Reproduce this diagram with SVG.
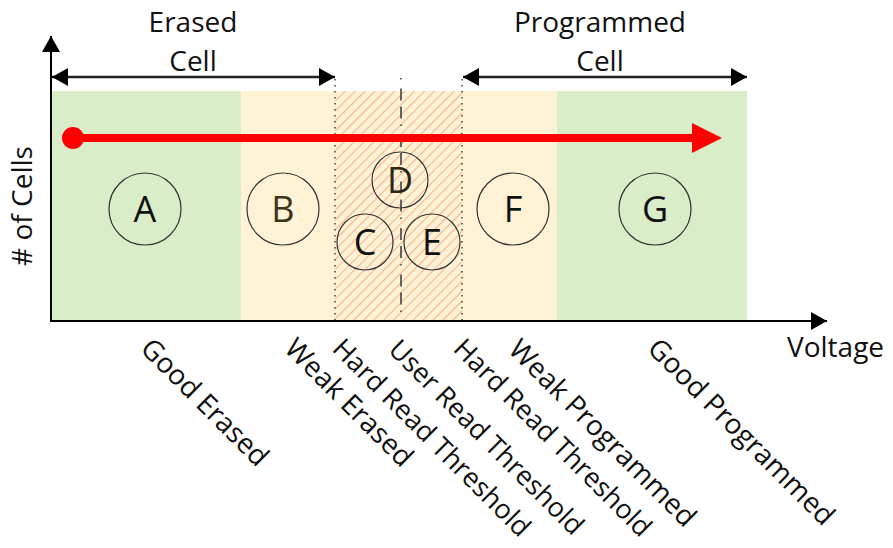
<svg xmlns="http://www.w3.org/2000/svg" width="893" height="548" viewBox="0 0 893 548">
<defs>
<style>
text { font-family: "Open Sans", "Noto Sans", "DejaVu Sans", sans-serif; fill: #111; }
.lbl { font-size: 28px; }
.thr { font-size: 27px; }
.big { font-size: 28px; }
.letter { font-size: 36px; text-anchor: middle; }
.circ { fill: none; stroke: #333; stroke-width: 1.2; }
.axis { stroke: #000; stroke-width: 2; fill: none; }
.dim { stroke: #222; stroke-width: 2.5; fill: none; }
.dot { stroke: #444; stroke-width: 1.5; stroke-dasharray: 1.5 4.5; fill: none; }
.dash { stroke: #555; stroke-width: 1.8; fill: none; }
</style>
<pattern id="hatch" patternUnits="userSpaceOnUse" width="7" height="7" patternTransform="rotate(45)">
<rect width="7" height="7" fill="#fff2d5"/>
<line x1="0" y1="0" x2="0" y2="7" stroke="#f5b48e" stroke-width="2.2"/>
</pattern>
<marker id="ah" viewBox="0 0 16 18" refX="16" refY="9" markerWidth="16" markerHeight="18" markerUnits="userSpaceOnUse" orient="auto-start-reverse">
<path d="M0,0 L16,9 L0,18 Z" fill="#000"/>
</marker>
</defs>

<g id="regions">
<rect x="51" y="91" width="190" height="230" fill="#d9edc9"/>
<rect x="241" y="91" width="94" height="230" fill="#fff2d5"/>
<rect x="335" y="91" width="127" height="230" fill="url(#hatch)"/>
<rect x="462" y="91" width="95" height="230" fill="#fff2d5"/>
<rect x="557" y="91" width="190" height="230" fill="#d9edc9"/>
</g>

<g id="connectors">
<line class="dot" x1="335" y1="79" x2="335" y2="321"/>
<line class="dot" x1="462" y1="79" x2="462" y2="321"/>
<line class="dash" x1="401" y1="78" x2="401" y2="321" stroke-dasharray="1.5 9 12 6 12 6"/>
<line class="axis" x1="51" y1="322" x2="51" y2="36" marker-end="url(#ah)"/>
<line class="axis" x1="50" y1="321" x2="827" y2="321" marker-end="url(#ah)"/>
<line class="dim" x1="52" y1="77" x2="335" y2="77" marker-start="url(#ah)" marker-end="url(#ah)"/>
<line class="dim" x1="463" y1="77" x2="747" y2="77" marker-start="url(#ah)" marker-end="url(#ah)"/>
<g id="red-arrow">
<circle cx="73" cy="138" r="11" fill="#ff0000"/>
<line x1="73" y1="138" x2="694" y2="138" stroke="#ff0000" stroke-width="8"/>
<path d="M692,123 L722,138 L692,153 Z" fill="#ff0000"/>
</g>
</g>

<g id="node-A"><circle class="circ" cx="145" cy="209" r="36"/><text class="letter" x="145" y="222">A</text></g>
<g id="node-B"><circle class="circ" cx="283" cy="209" r="36"/><text class="letter" x="283" y="222" style="fill:#3b3520">B</text></g>
<g id="node-D"><circle class="circ" cx="400" cy="180" r="28"/><text class="letter" x="400" y="193" style="fill:#2a2818">D</text></g>
<g id="node-C"><circle class="circ" cx="365" cy="242" r="28"/><text class="letter" x="365" y="255">C</text></g>
<g id="node-E"><circle class="circ" cx="432" cy="242" r="28"/><text class="letter" x="432" y="255">E</text></g>
<g id="node-F"><circle class="circ" cx="513" cy="209" r="36"/><text class="letter" x="513" y="222">F</text></g>
<g id="node-G"><circle class="circ" cx="655" cy="209" r="36"/><text class="letter" x="655" y="222">G</text></g>

<g id="titles">
<text class="big" x="193" y="32" text-anchor="middle">Erased</text>
<text class="big" x="193" y="71" text-anchor="middle">Cell</text>
<text class="big" x="600" y="32" text-anchor="middle">Programmed</text>
<text class="big" x="600" y="71" text-anchor="middle">Cell</text>
<text class="big" x="787" y="357">Voltage</text>
<text class="big" transform="translate(32,206) rotate(-90)" text-anchor="middle"># of Cells</text>
</g>

<g id="labels">
<text class="lbl" transform="translate(139,350) rotate(45)">Good Erased</text>
<text class="lbl" transform="translate(283,350) rotate(45)">Weak Erased</text>
<text class="thr" transform="translate(331,350) rotate(45)">Hard Read Threshold</text>
<text class="thr" transform="translate(387,351) rotate(45)">User Read Threshold</text>
<text class="thr" transform="translate(452,350) rotate(45)">Hard Read Threshold</text>
<text class="lbl" transform="translate(507,351) rotate(45)">Weak Programmed</text>
<text class="lbl" transform="translate(646,350) rotate(45)">Good Programmed</text>
</g>
</svg>
